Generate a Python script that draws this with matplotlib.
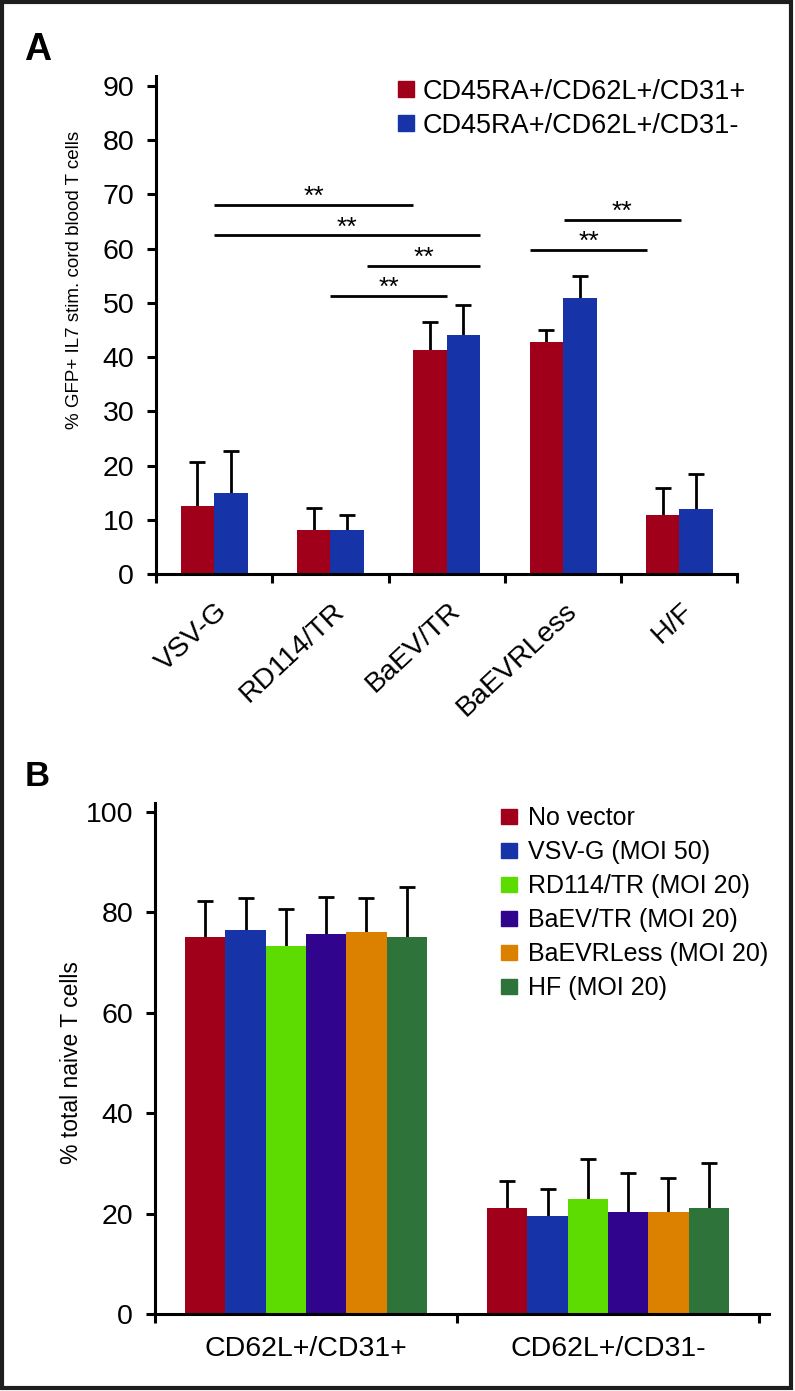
import numpy as np
import matplotlib.pyplot as plt
from matplotlib.patches import Rectangle
from matplotlib.transforms import ScaledTranslation

plt.rcParams['font.family'] = ['Liberation Sans', 'DejaVu Sans']

# --- panel A data
vectors = ['VSV-G', 'RD114/TR', 'BaEV/TR', 'BaEVRLess', 'H/F']
cd31pos = [12.5, 8.2, 41.2, 42.8, 10.8]
cd31pos_sd = [8.2, 3.9, 5.3, 2.1, 5.0]
cd31neg = [14.9, 8.2, 44.0, 50.9, 11.9]
cd31neg_sd = [7.8, 2.7, 5.6, 4.0, 6.5]
seriesA = ['CD45RA+/CD62L+/CD31+', 'CD45RA+/CD62L+/CD31-']

# significance bars: start, end, height
sig_x0 = [0.0, 0.0, 1.31, 1.0, 3.01, 2.72]
sig_x1 = [1.71, 2.29, 2.29, 2.0, 4.01, 3.72]
sig_y = [68.1, 62.4, 56.7, 51.2, 65.3, 59.65]

# --- panel B data
groups = ['CD62L+/CD31+', 'CD62L+/CD31-']
conditions = ['No vector', 'VSV-G (MOI 50)', 'RD114/TR (MOI 20)',
              'BaEV/TR (MOI 20)', 'BaEVRLess (MOI 20)', 'HF (MOI 20)']
no_vector = [75.0, 21.2]
vsvg = [76.4, 19.6]
rd114 = [73.3, 22.9]
baev = [75.7, 20.4]
baevrless = [76.1, 20.4]
hf = [75.0, 21.2]
no_vector_sd = [7.2, 5.3]
vsvg_sd = [6.5, 5.2]
rd114_sd = [7.4, 7.9]
baev_sd = [7.3, 7.7]
baevrless_sd = [6.8, 6.7]
hf_sd = [10.0, 8.9]

red = '#A0001A'
blue = '#1634A8'
colorsB = [red, blue, '#5CDC00', '#30048C', '#DC8000', '#2D733A']

W, H = 795, 1391
fig = plt.figure(figsize=(W / 100, H / 100), dpi=100)


def fx(px):
    return px / W


def fy(py):
    return 1 - py / H


def style_axes(ax):
    for s in ['top', 'right']:
        ax.spines[s].set_visible(False)
    for s in ['left', 'bottom']:
        ax.spines[s].set_linewidth(2.2)
    ax.tick_params(axis='y', length=6.7, width=2.2, pad=9, labelsize=20.5)
    ax.tick_params(axis='x', which='minor', length=6.5, width=2.2)


def bars_with_err(ax, x, vals, sd, color, width, capsize):
    ax.bar(x, vals, width, color=color, zorder=2)
    eb = ax.errorbar(x, vals, yerr=[np.zeros(len(vals)), sd], fmt='none',
                     ecolor='black', elinewidth=2, capsize=capsize,
                     capthick=2, zorder=1)
    # Prism style: only the upper cap
    for cl in eb.lines[1]:
        if np.allclose(cl.get_ydata(), vals):
            cl.set_visible(False)


# ---------------- panel A
axA = fig.add_axes([fx(156), fy(574), fx(737.5) - fx(156), fy(76) - fy(574)])
style_axes(axA)
xA = np.arange(len(vectors))
wA = 0.288
bars_with_err(axA, xA - wA / 2, cd31pos, cd31pos_sd, red, wA, 6)
bars_with_err(axA, xA + wA / 2, cd31neg, cd31neg_sd, blue, wA, 6)

for x0, x1, y in zip(sig_x0, sig_x1, sig_y):
    axA.plot([x0, x1], [y, y], color='black', lw=2, solid_capstyle='butt')
    axA.text((x0 + x1) / 2, y + 0.2, '**', ha='center', va='baseline', fontsize=19)

axA.set_xlim(-0.5, 4.5)
axA.set_ylim(0, 91.8)
axA.set_yticks(np.arange(0, 91, 10))
axA.set_xticks(np.arange(-0.5, 5), minor=True)
axA.set_xticks(xA)
axA.set_xticklabels(vectors, rotation=43, ha='right', va='center',
                    rotation_mode='anchor', fontsize=20.5)
axA.tick_params(axis='x', which='major', length=0, pad=24)
for lab in axA.get_xticklabels():
    lab.set_transform(lab.get_transform() + ScaledTranslation(0.1, 0, fig.dpi_scale_trans))

fig.text(fx(75), fy(280), '% GFP+ IL7 stim. cord blood T cells', rotation=90,
         ha='center', va='center', fontsize=13.5)

# legend A
for i, (lab, c) in enumerate(zip(seriesA, [red, blue])):
    yc = 89 + i * 34
    fig.add_artist(Rectangle((fx(398), fy(yc + 7.5)), fx(15.5), 15 / H,
                             color=c, transform=fig.transFigure))
    fig.text(fx(423), fy(yc + 9.7), lab, fontsize=19.5, va='baseline', ha='left')

# ---------------- panel B
axB = fig.add_axes([fx(155), fy(1314), fx(769) - fx(155), fy(802.7) - fy(1314)])
style_axes(axB)
xB = np.arange(len(groups))
wB = 0.1334
meansB = [no_vector, vsvg, rd114, baev, baevrless, hf]
sdsB = [no_vector_sd, vsvg_sd, rd114_sd, baev_sd, baevrless_sd, hf_sd]
for i, (m, s, c) in enumerate(zip(meansB, sdsB, colorsB)):
    bars_with_err(axB, xB + (i - 2.5) * wB, m, s, c, wB, 5.7)

axB.set_xlim(-0.5, 1.533)
axB.set_ylim(0, 101.8)
axB.set_yticks(np.arange(0, 101, 20))
axB.set_xticks(np.arange(-0.5, 2), minor=True)
axB.set_xticks(xB)
axB.set_xticklabels(groups, fontsize=20.5)
axB.tick_params(axis='x', which='major', length=0, pad=16)

fig.text(fx(72), fy(1063), '% total naive T cells', rotation=90,
         ha='center', va='center', fontsize=16.5)

for i, (lab, c) in enumerate(zip(conditions, colorsB)):
    yc = 816 + i * 34.1
    fig.add_artist(Rectangle((fx(501), fy(yc + 7.5)), fx(15.5), 15 / H,
                             color=c, transform=fig.transFigure))
    fig.text(fx(527.5), fy(yc + 9), lab, fontsize=18, va='baseline', ha='left')

# panel letters
fig.text(fx(24), fy(60), 'A', fontsize=27, weight='bold', va='baseline')
fig.text(fx(25), fy(786), 'B', fontsize=25, weight='bold', va='baseline')

# frame around the whole figure
fig.add_artist(Rectangle((fx(2), fy(1387.5)), fx(789), (1385.5) / H, fill=False,
                         edgecolor='#1e1e1e', lw=3, transform=fig.transFigure))

fig.savefig('out.png', dpi=100)
